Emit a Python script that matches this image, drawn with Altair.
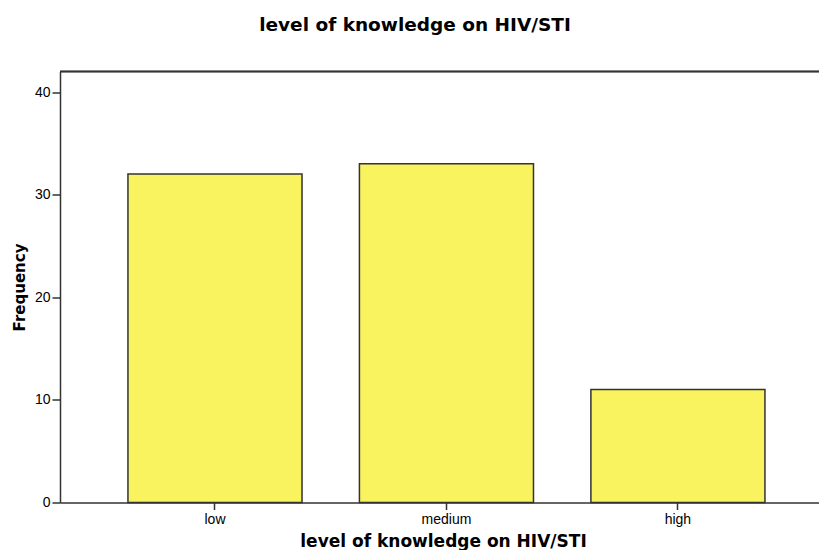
import altair as alt
import pandas as pd

categories = ["low", "medium", "high"]
frequency = [32, 33, 11]

df = pd.DataFrame({"level": categories, "freq": frequency})

TXT = "level of knowledge on HIV/STI"
LINE = "#333333"

x_enc = alt.X(
    "level:N",
    sort=categories,
    scale=alt.Scale(paddingInner=0.248, paddingOuter=0.2635, align=0.557),
    axis=alt.Axis(
        title=TXT,
        titleFont="DejaVu Sans",
        titleFontSize=17,
        titleFontWeight="bold",
        titleColor="black",
        titleX=383,
        titleY=44,
        titleBaseline="alphabetic",
        labelAngle=0,
        labelFont="Liberation Sans",
        labelFontSize=14,
        labelColor="black",
        labelPadding=3,
        tickSize=7,
        tickColor=LINE,
        tickWidth=1.5,
        domainColor=LINE,
        domainWidth=1.5,
    ),
)

y_enc = alt.Y(
    "freq:Q",
    scale=alt.Scale(domain=[0, 42], nice=False),
    axis=alt.Axis(
        title="Frequency",
        titleFont="DejaVu Sans",
        titleFontSize=15,
        titleFontWeight="bold",
        titleColor="black",
        titleX=-41,
        titleBaseline="middle",
        values=[0, 10, 20, 30, 40],
        grid=False,
        labelFont="Liberation Sans",
        labelFontSize=14,
        labelColor="black",
        labelPadding=2,
        tickSize=8,
        tickColor=LINE,
        tickWidth=1.5,
        domainColor=LINE,
        domainWidth=1.5,
    ),
)

bars = alt.Chart(df).mark_bar(
    color="#F8F35E", stroke=LINE, strokeWidth=1.5
).encode(x=x_enc, y=y_enc)

top_line = alt.Chart(df).mark_rule(color=LINE, strokeWidth=1.5).encode(
    y=alt.datum(42)
)

chart = (
    alt.layer(bars, top_line)
    .properties(
        width=759,
        height=431,
        padding={"left": 52, "top": 63.5, "right": 0, "bottom": 47},
        autosize=alt.AutoSizeParams(type="none"),
        background="white",
        title=alt.Title(
            TXT,
            font="DejaVu Sans",
            fontSize=18.5,
            fontWeight="bold",
            color="black",
            dx=-24.5,
            offset=36,
        ),
    )
    .configure_view(stroke=None)
)

chart.save("out.html", embed_options={"renderer": "svg", "actions": False})
